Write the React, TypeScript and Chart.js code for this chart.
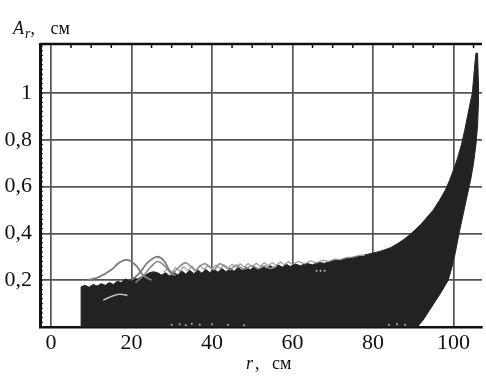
import React, { useEffect, useRef } from 'react';
import { Chart, registerables } from 'chart.js';

Chart.register(...registerables);

// Axis ticks
const X_TICKS = [0, 20, 40, 60, 80, 100];
const X_TICK_LABELS = ['0', '20', '40', '60', '80', '100'];
const Y_TICKS = [0, 0.2, 0.4, 0.6, 0.8, 1.0];
const Y_TICK_LABELS = ['', '0,2', '0,4', '0,6', '0,8', '1'];
const X_MINOR = [5, 10, 15, 25, 30, 35, 45, 50, 55, 65, 70, 75, 85, 90, 95, 105];

// Upper (left/top) envelope of the dense oscillation band, r (cm) vs A_r (cm)
const BAND_UPPER: [number, number][] = [
  [7.5, 0], [7.5, 0.172], [8.5, 0.178], [9.5, 0.17], [10.5, 0.182], [11.5, 0.175],
  [12.5, 0.185], [13.5, 0.178], [14.5, 0.19], [15.5, 0.182], [16.5, 0.195], [17.5, 0.19],
  [18.5, 0.205], [19.5, 0.198], [20.5, 0.21], [21.5, 0.205], [22.5, 0.215], [23.5, 0.222],
  [24.5, 0.232], [25.5, 0.236], [26.5, 0.232], [27.5, 0.222], [28.5, 0.232], [29.5, 0.218],
  [30.5, 0.236], [31.5, 0.222], [32.5, 0.24], [33.5, 0.226], [34.5, 0.242], [35.5, 0.228],
  [36.5, 0.244], [37.5, 0.23], [38.5, 0.246], [39.5, 0.232], [40.5, 0.248], [41.5, 0.234],
  [42.5, 0.25], [43.5, 0.236], [44.5, 0.252], [45.5, 0.238], [46.5, 0.254], [47.5, 0.242],
  [48.5, 0.256], [49.5, 0.244], [50.5, 0.258], [51.5, 0.246], [52.5, 0.26], [53.5, 0.25],
  [54.5, 0.262], [55.5, 0.252], [56.5, 0.265], [57.5, 0.256], [58.5, 0.268], [59.5, 0.258],
  [60.5, 0.27], [62, 0.262], [63.5, 0.272], [65, 0.266], [66.5, 0.276], [68, 0.272],
  [69.5, 0.282], [71, 0.286], [72.5, 0.29], [74, 0.294], [75.5, 0.3], [77, 0.304],
  [78.5, 0.31], [80, 0.316], [81.5, 0.322], [83, 0.33], [84.5, 0.34], [86, 0.355],
  [87.5, 0.372], [89, 0.392], [90.5, 0.415], [92, 0.44], [93.5, 0.47], [95, 0.5],
  [96.5, 0.54], [98, 0.585], [99, 0.625], [100, 0.67], [101, 0.72], [102, 0.78],
  [102.8, 0.84], [103.5, 0.9], [104.2, 0.96], [104.7, 1.0], [105, 1.06], [105.3, 1.12],
  [105.6, 1.17], [106, 1.17],
];

// Lower (right) envelope of the band
const BAND_LOWER: [number, number][] = [
  [7.5, 0], [91, 0], [92.5, 0.03], [94, 0.07], [95.5, 0.11], [97, 0.15], [98.7, 0.2],
  [99.7, 0.26], [100.5, 0.32], [101.4, 0.4], [102.4, 0.48], [103.4, 0.56], [104.3, 0.63],
  [105, 0.7], [105.6, 0.78], [106, 0.86], [106.2, 0.95], [106.2, 1.05], [106, 1.17],
];

// Light speckled fringe along the top of the band
const FRINGE: [number, number][] = [
  [28, 0.235], [29, 0.25], [30, 0.232], [31, 0.255], [32, 0.238], [33, 0.258], [34, 0.24],
  [35, 0.26], [36, 0.242], [37, 0.262], [38, 0.245], [39, 0.263], [40, 0.248], [41, 0.265],
  [42, 0.25], [43, 0.266], [44, 0.252], [45, 0.268], [46, 0.254], [47, 0.27], [48, 0.256],
  [49, 0.271], [50, 0.258], [51, 0.272], [52, 0.26], [53, 0.274], [54, 0.262], [55, 0.275],
  [56, 0.264], [57, 0.278], [58, 0.266], [59, 0.279], [60, 0.268], [61.5, 0.28], [63, 0.27],
  [64.5, 0.282], [66, 0.274], [67.5, 0.285], [69, 0.28], [70.5, 0.29], [72, 0.288],
  [73.5, 0.298], [75, 0.298], [76.5, 0.306], [78, 0.306],
];

// Grey trajectories sticking out above the band
const CURVE_1: [number, number][] = [
  [9, 0.2], [12, 0.214], [15, 0.245], [17, 0.275], [19, 0.287], [21, 0.265], [23, 0.22], [25, 0.2],
];
const CURVE_2: [number, number][] = [
  [20, 0.2], [22, 0.23], [24, 0.275], [26.3, 0.3], [28, 0.285], [29.5, 0.24], [31, 0.22],
];
const CURVE_3: [number, number][] = [
  [21, 0.19], [23, 0.22], [25, 0.26], [26.5, 0.28], [28, 0.265], [30, 0.225],
];
const CURVE_4: [number, number][] = [
  [30, 0.22], [31.5, 0.25], [33.4, 0.274], [35, 0.255], [36, 0.24], [37, 0.26], [38.3, 0.27],
  [39.5, 0.255], [40.5, 0.245], [42, 0.27], [43.5, 0.255], [44.5, 0.245], [46, 0.265],
  [47.5, 0.25], [48.5, 0.25], [50, 0.262], [51.5, 0.25], [53, 0.26], [54.5, 0.25], [56, 0.26],
];
const CURVE_5: [number, number][] = [
  [13, 0.115], [15, 0.13], [17, 0.14], [19, 0.135],
];

// Light specks along the r axis
const SPECKS: [number, number][] = [
  [30, 0.01], [32, 0.012], [33.5, 0.008], [35, 0.014], [37, 0.01], [40, 0.012], [44, 0.01],
  [48, 0.008], [66, 0.24], [67, 0.24], [68, 0.24], [84, 0.01], [86, 0.012], [88, 0.01],
];

const toPts = (arr: [number, number][]) => arr.map(([x, y]) => ({ x, y }));

const SERIF = '"Liberation Serif", "Times New Roman", serif';

const framePlugin = {
  id: 'frame',
  afterDraw(chart: any) {
    const { ctx, chartArea: a, scales } = chart;
    const xs = scales.x;
    const ys = scales.y;
    ctx.save();
    ctx.strokeStyle = '#111';
    ctx.lineWidth = 2.5;
    ctx.beginPath();
    ctx.moveTo(a.left, a.top);
    ctx.lineTo(a.right, a.top);
    ctx.stroke();
    ctx.lineWidth = 1.5;
    X_MINOR.forEach((v) => {
      const px = xs.getPixelForValue(v);
      ctx.beginPath();
      ctx.moveTo(px, a.top);
      ctx.lineTo(px, a.top + 4);
      ctx.stroke();
    });
    ctx.lineWidth = 1;
    for (let i = 1; i < 61; i++) {
      const py = ys.getPixelForValue(i * 0.02);
      if (py < a.top) break;
      ctx.beginPath();
      ctx.moveTo(a.left, py);
      ctx.lineTo(a.left + 3, py);
      ctx.stroke();
    }
    ctx.restore();
  },
};

export default function App() {
  const ref = useRef<HTMLCanvasElement | null>(null);

  useEffect(() => {
    if (!ref.current) return;
    const polygon = [...toPts(BAND_UPPER), ...toPts([...BAND_LOWER].reverse())];
    const lineDs = (data: [number, number][], color: string, width: number, tension: number) => ({
      data: toPts(data),
      showLine: true,
      borderColor: color,
      borderWidth: width,
      pointRadius: 0,
      tension,
      fill: false,
      order: 0,
    });
    const chart = new Chart(ref.current, {
      type: 'scatter',
      data: {
        datasets: [
          lineDs(CURVE_1, '#7c7c7c', 1.8, 0.4),
          lineDs(CURVE_2, '#7c7c7c', 1.8, 0.4),
          lineDs(CURVE_3, '#8a8a8a', 1.6, 0.4),
          lineDs(CURVE_4, '#8f8f8f', 1.6, 0.4),
          lineDs(CURVE_5, '#bdbdbd', 1.6, 0.4),
          lineDs(FRINGE, '#9c9c9c', 1.2, 0),
          {
            data: toPts(SPECKS),
            showLine: false,
            pointRadius: 1,
            pointBorderWidth: 0,
            pointBackgroundColor: '#b5b5b5',
            order: 0,
          } as any,
          {
            data: polygon,
            showLine: true,
            borderColor: '#262626',
            backgroundColor: '#222222',
            borderWidth: 1,
            pointRadius: 0,
            fill: 'shape',
            order: 10,
          } as any,
        ],
      },
      options: {
        animation: false,
        responsive: true,
        maintainAspectRatio: false,
        layout: { padding: { top: 44, right: 0, left: 0, bottom: 0 } },
        plugins: { legend: { display: false }, tooltip: { enabled: false }, title: { display: false } },
        scales: {
          x: {
            type: 'linear',
            min: -2.71,
            max: 107.1,
            afterBuildTicks: (scale: any) => {
              scale.ticks = X_TICKS.map((v) => ({ value: v }));
            },
            afterFit: (scale: any) => {
              scale.height = 51;
              scale.paddingLeft = 0;
              scale.paddingRight = 0;
            },
            ticks: {
              autoSkip: false,
              maxRotation: 0,
              padding: 3,
              color: '#111',
              font: { family: SERIF, size: 22 },
              callback: (v: any) => {
                const i = X_TICKS.indexOf(Number(v));
                return i >= 0 ? X_TICK_LABELS[i] : '';
              },
            },
            grid: { color: '#555', lineWidth: 1.7, drawTicks: false },
            border: { display: true, color: '#111', width: 2.5 },
          },
          y: {
            type: 'linear',
            min: 0,
            max: 1.209,
            afterBuildTicks: (scale: any) => {
              scale.ticks = Y_TICKS.map((v) => ({ value: v }));
            },
            afterFit: (scale: any) => {
              scale.width = 40;
              scale.paddingTop = 0;
              scale.paddingBottom = 0;
            },
            ticks: {
              autoSkip: false,
              padding: 8,
              color: '#111',
              font: { family: SERIF, size: 22 },
              callback: (v: any) => {
                const i = Y_TICKS.indexOf(Number(v));
                return i >= 0 ? Y_TICK_LABELS[i] : '';
              },
            },
            grid: { color: '#555', lineWidth: 1.7, drawTicks: false },
            border: { display: true, color: '#111', width: 3 },
          },
        },
      },
      plugins: [framePlugin],
    });
    return () => chart.destroy();
  }, []);

  return (
    <div style={{ position: 'absolute', left: 0, top: 0, width: 486, height: 378, background: '#fff' }}>
      <canvas ref={ref} />
      <div
        style={{
          position: 'absolute', left: 13, top: 19, font: `18px ${SERIF}`, lineHeight: '18px',
          color: '#111', whiteSpace: 'nowrap', wordSpacing: '11px',
        }}
      >
        <i>A</i>
        <i style={{ fontSize: 14, position: 'relative', top: 4, marginLeft: 1 }}>r</i>, см
      </div>
      <div
        style={{
          position: 'absolute', left: 246, top: 354, font: `18px ${SERIF}`, lineHeight: '18px',
          color: '#111', whiteSpace: 'nowrap', wordSpacing: '8px',
        }}
      >
        <i style={{ marginRight: 2 }}>r</i>, см
      </div>
    </div>
  );
}
